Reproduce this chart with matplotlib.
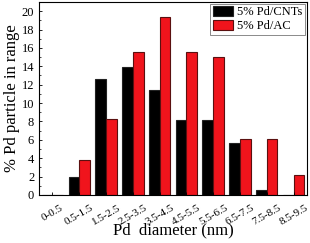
import numpy as np
import matplotlib
matplotlib.use("Agg")
import matplotlib.pyplot as plt
from matplotlib.ticker import MultipleLocator

plt.rcParams['font.family'] = ['Liberation Serif', 'DejaVu Serif']

bins = ['0-0.5', '0.5-1.5', '1.5-2.5', '2.5-3.5', '3.5-4.5', '4.5-5.5',
        '5.5-6.5', '6.5-7.5', '7.5-8.5', '8.5-9.5']
pd_cnt = [0, 1.9, 12.6, 13.9, 11.4, 8.1, 8.1, 5.6, 0.5, 0]
pd_ac = [0, 3.8, 8.3, 15.5, 19.4, 15.5, 15.0, 6.1, 6.1, 2.2]

x = np.arange(len(bins))
w = 0.40

fig = plt.figure(figsize=(3.1, 2.43), dpi=100)
ax = fig.add_axes([0.126, 0.198, 0.864, 0.794])

ax.bar(x - w, pd_cnt, w, align='edge', color='black', edgecolor='#222222', lw=0.8,
       label='5% Pd/CNTs')
ax.bar(x, pd_ac, w, align='edge', color='#f0141c', edgecolor='#5a1010', lw=0.8,
       label='5% Pd/AC')

ax.set_xlim(-0.5, 9.5)
ax.set_ylim(0, 21)
ax.yaxis.set_major_locator(MultipleLocator(2))
ax.yaxis.set_minor_locator(MultipleLocator(1))
ax.set_xticks(x)
ax.set_xticklabels(bins, rotation=30, ha='center')
ax.tick_params(axis='both', direction='in', labelsize=9, length=2.5, width=0.6)
ax.tick_params(axis='x', labelsize=8, pad=6)
ax.tick_params(axis='y', which='minor', direction='in', length=1.5, width=0.5)
for s in ax.spines.values():
    s.set_linewidth(0.8)

ax.set_xlabel('Pd  diameter (nm)', fontsize=12)
ax.xaxis.set_label_coords(0.5, -0.14)
ax.set_ylabel('% Pd particle in range', fontsize=12, labelpad=1)

leg = ax.legend(loc='upper right', fontsize=9, frameon=True, fancybox=False,
                edgecolor='#555555', borderpad=0.2, handlelength=1.65, handleheight=0.8,
                labelspacing=0.15, handletextpad=0.3, borderaxespad=0.15)
leg.get_frame().set_linewidth(0.6)

fig.savefig('out.png', dpi=100)
